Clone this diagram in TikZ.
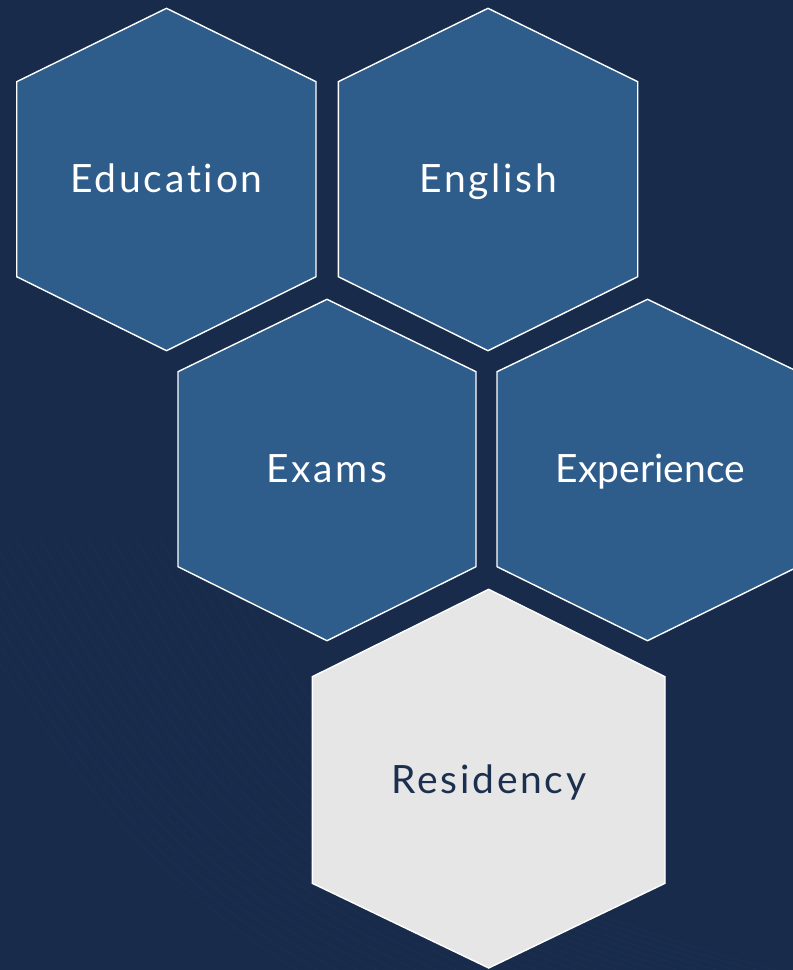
\documentclass[tikz,border=0pt]{standalone}
\usepackage{fontspec}
\setmainfont{Lato}[Ligatures=NoCommon]
\newfontfamily\spacedfont{Lato}[Ligatures=NoCommon,LetterSpace=7]
\definecolor{bg}{HTML}{182B4A}
\definecolor{bgline}{HTML}{1A3152}
\definecolor{hexblue}{HTML}{2E5D8B}
\definecolor{hexgrey}{HTML}{E6E6E6}
\definecolor{navytext}{HTML}{1B2F4E}
\begin{document}
\begin{tikzpicture}[x=1pt,y=-1pt,
  hexcell/.style={fill=hexblue,draw=white,line width=1.4pt,line join=miter},
  hexlight/.style={fill=hexgrey,draw=white,line width=1.4pt,line join=miter},
  hexlabel/.style={text=white,font=\spacedfont\fontsize{39}{39}\selectfont,anchor=base,inner sep=0pt},
  plainlabel/.style={hexlabel,font=\rmfamily\fontsize{39}{39}\selectfont},
  darklabel/.style={hexlabel,text=navytext},
  bgcurve/.style={draw=bgline,line width=0.7pt}]
\fill[bg] (0,0) rectangle (793,970);
\useasboundingbox (0,0) rectangle (793,970);
% faint background curves
\begin{scope}
\clip (0,0) rectangle (793,970);
\foreach \i in {0,...,24}{
  \draw[bgcurve] ({\i*12-80},540) .. controls ({\i*12+60},{760}) and ({140+\i*10},{880}) .. ({330+\i*22},{990});
}
\end{scope}
% hexagons
\draw[hexcell] (166.5,8.3) -- (316,81.7) -- (316,276.7) -- (166.5,350.7) -- (16.7,276.7) -- (16.7,81.7) -- cycle;
\draw[hexcell] (488,8.3) -- (637.7,81.7) -- (637.7,276.7) -- (488,350.7) -- (338.3,276.7) -- (338.3,81.7) -- cycle;
\draw[hexcell] (327,299.3) -- (476,371.7) -- (476,566.7) -- (327,640.7) -- (178,566.7) -- (178,371.7) -- cycle;
\draw[hexcell] (647.5,299.3) -- (798,371.7) -- (798,566.7) -- (647.5,640.7) -- (497,566.7) -- (497,371.7) -- cycle;
\draw[hexlight] (488.7,589.3) -- (665,676.7) -- (665,883.3) -- (488.7,968) -- (312.3,883.3) -- (312.3,676.7) -- cycle;
% labels
\node[hexlabel] (education) at (166.5,192) {Education};
\node[hexlabel] (english) at (488.5,192) {English};
\node[hexlabel] (exams) at (327,482.7) {Exams};
\node[plainlabel] (experience) at (650.5,482.7) {Experience};
\node[darklabel] (residency) at (489,793) {Residency};
\end{tikzpicture}
\end{document}
